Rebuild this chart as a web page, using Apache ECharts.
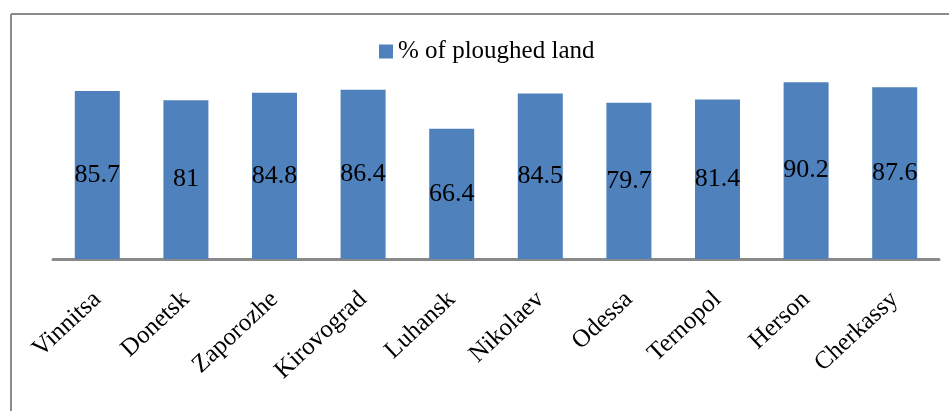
<!DOCTYPE html>
<html>
<head>
<meta charset="utf-8">
<script src="https://cdn.jsdelivr.net/npm/echarts@6/dist/echarts.min.js"></script>
<style>
  html, body { margin: 0; padding: 0; background: #fff; }
  #chart { width: 949px; height: 411px; }
</style>
</head>
<body>
<div id="chart"></div>
<script>
// regions and share of ploughed land
var regions = ['Vinnitsa', 'Donetsk', 'Zaporozhe', 'Kirovograd', 'Luhansk',
  'Nikolaev', 'Odessa', 'Ternopol', 'Herson', 'Cherkassy'];
var ploughed = [85.7, 81, 84.8, 86.4, 66.4, 84.5, 79.7, 81.4, 90.2, 87.6];
var seriesName = '% of ploughed land';

var serif = '"Liberation Serif", "DejaVu Serif", serif';
var chart = echarts.init(document.getElementById('chart'));

chart.setOption({
  backgroundColor: '#fff',
  animation: false,
  // outer frame (top and left edges only)
  graphic: [
    { type: 'line', shape: { x1: 11, y1: 14, x2: 949, y2: 14 }, style: { stroke: '#8c8c8c', lineWidth: 2 } },
    { type: 'line', shape: { x1: 11, y1: 14, x2: 11, y2: 411 }, style: { stroke: '#8c8c8c', lineWidth: 2 } }
  ],
  legend: {
    data: [seriesName],
    left: 374,
    top: 34,
    icon: 'rect',
    itemWidth: 14,
    itemHeight: 14,
    itemGap: 4,
    textStyle: { fontFamily: serif, fontSize: 25, color: '#000' }
  },
  grid: {
    left: 53,
    right: 10,
    top: 63,
    bottom: 152
  },
  xAxis: {
    type: 'category',
    data: regions,
    axisLine: { lineStyle: { color: '#898989', width: 3 } },
    axisTick: { show: false },
    axisLabel: {
      rotate: 43,
      margin: 37,
      interval: 0,
      fontFamily: serif,
      fontSize: 25,
      color: '#000'
    }
  },
  yAxis: {
    type: 'value',
    min: 0,
    max: 100,
    show: false,
    splitLine: { show: false }
  },
  series: [{
    name: seriesName,
    type: 'bar',
    data: ploughed,
    barWidth: 45,
    itemStyle: { color: '#4f81bd' },
    label: {
      show: true,
      position: 'inside',
      fontFamily: serif,
      fontSize: 26,
      color: '#000'
    }
  }]
});
</script>
</body>
</html>
